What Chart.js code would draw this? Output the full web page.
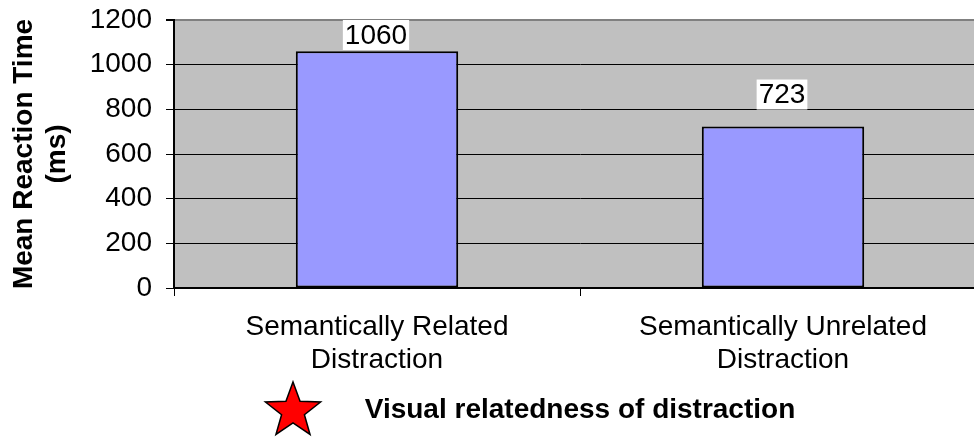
<!DOCTYPE html>
<html>
<head>
<meta charset="utf-8">
<script src="https://cdn.jsdelivr.net/npm/chart.js@4.4.1/dist/chart.umd.min.js"></script>
<style>
  html, body { margin: 0; padding: 0; background: #fff; overflow: hidden; }
  #wrap { width: 1000px; height: 437px; position: relative; }
</style>
</head>
<body>
<div id="wrap"><canvas id="myChart"></canvas></div>
<script>
const FONT = "'Liberation Sans', Arial, sans-serif";
const PLOT_BG = '#C0C0C0';
const BAR_FILL = '#9999FF';

// data
const categories = [['Semantically Related', 'Distraction'], ['Semantically Unrelated', 'Distraction']];
const reactionTimes = [1060, 723];
const yTicks = [0, 200, 400, 600, 800, 1000, 1200];
const yTitle = ['Mean Reaction Time', '(ms)'];
const xTitle = 'Visual relatedness of distraction';

// gray plot background
const plotBackground = {
    id: 'plotBackground',
    beforeDraw(chart) {
        const {ctx, chartArea: a} = chart;
        ctx.save();
        ctx.fillStyle = PLOT_BG;
        ctx.fillRect(a.left, a.top, a.right - a.left, a.bottom - a.top);
        ctx.restore();
    }
};

// value labels with white boxes above the bars
const valueLabels = {
    id: 'valueLabels',
    afterDatasetsDraw(chart) {
        const {ctx, chartArea} = chart;
        const meta = chart.getDatasetMeta(0);
        ctx.save();
        ctx.font = '28px ' + FONT;
        ctx.textAlign = 'center';
        ctx.textBaseline = 'middle';
        meta.data.forEach((bar, i) => {
            const text = String(chart.data.datasets[0].data[i]);
            const w = ctx.measureText(text).width + 4;
            const h = 30;
            let top = bar.y - 17 - h;
            if (top < chartArea.top) top = chartArea.top;
            ctx.fillStyle = '#fff';
            ctx.fillRect(bar.x - w / 2 - 1, top, w, h);
            ctx.fillStyle = '#000';
            ctx.fillText(text, bar.x - 1, top + h / 2 + 1);
        });
        ctx.restore();
    }
};

// red star marker next to the x axis title
const starMarker = {
    id: 'starMarker',
    afterDraw(chart) {
        const ctx = chart.ctx;
        const cx = 293, cy = 411, R = 29, r = 12;
        ctx.save();
        ctx.beginPath();
        for (let k = 0; k < 10; k++) {
            const rad = k % 2 === 0 ? R : r;
            const ang = -Math.PI / 2 + k * Math.PI / 5;
            const px = cx + rad * Math.cos(ang);
            const py = cy + rad * Math.sin(ang);
            if (k === 0) ctx.moveTo(px, py); else ctx.lineTo(px, py);
        }
        ctx.closePath();
        ctx.fillStyle = '#FF0000';
        ctx.fill();
        ctx.lineWidth = 1.5;
        ctx.strokeStyle = '#000';
        ctx.stroke();
        ctx.restore();
    }
};

var ctx = document.getElementById('myChart').getContext('2d');

var chart = new Chart(ctx, {
    type: 'bar',
    data: {
        labels: categories,
        datasets: [{
            data: reactionTimes,
            backgroundColor: BAR_FILL,
            borderColor: '#000',
            borderWidth: 2,
            borderSkipped: false,
            categoryPercentage: 1,
            barPercentage: 0.4
        }]
    },
    options: {
        animation: false,
        responsive: true,
        maintainAspectRatio: false,
        layout: {
            padding: { top: 20, right: 14, left: 0, bottom: 0 }
        },
        plugins: {
            legend: { display: false },
            tooltip: { enabled: false }
        },
        scales: {
            x: {
                offset: true,
                grid: {
                    offset: true,
                    drawOnChartArea: false,
                    tickLength: 8,
                    tickColor: '#000'
                },
                border: { color: '#000', width: 2 },
                ticks: {
                    color: '#000',
                    padding: 15,
                    maxRotation: 0,
                    autoSkip: false,
                    font: { family: FONT, size: 28, lineHeight: 1.18 }
                },
                title: {
                    display: true,
                    text: xTitle,
                    color: '#000',
                    padding: { top: 0, bottom: 10 },
                    font: { family: FONT, size: 28, weight: 'bold', lineHeight: 1.18 }
                },
                afterFit(scale) {
                    scale.height = 149;
                    scale.paddingLeft = 0;
                    scale.paddingRight = 0;
                }
            },
            y: {
                min: 0,
                max: 1200,
                afterBuildTicks(scale) { scale.ticks = yTicks.map(v => ({ value: v })); },
                grid: {
                    color: c => c.tick && c.tick.value === 1200 ? '#808080' : '#000',
                    lineWidth: c => c.tick && c.tick.value === 1200 ? 2 : 1,
                    tickLength: 8,
                    tickColor: '#000'
                },
                border: { color: '#000', width: 2 },
                ticks: {
                    color: '#000',
                    padding: 14,
                    callback: v => String(v),
                    font: { family: FONT, size: 28 }
                },
                title: {
                    display: true,
                    text: yTitle,
                    color: '#000',
                    padding: { top: 8, bottom: 0 },
                    font: { family: FONT, size: 28, weight: 'bold', lineHeight: 1.18 }
                },
                afterFit(scale) {
                    scale.width = 174;
                    scale.paddingTop = 0;
                    scale.paddingBottom = 0;
                }
            }
        }
    },
    plugins: [plotBackground, valueLabels, starMarker]
});
</script>
</body>
</html>
